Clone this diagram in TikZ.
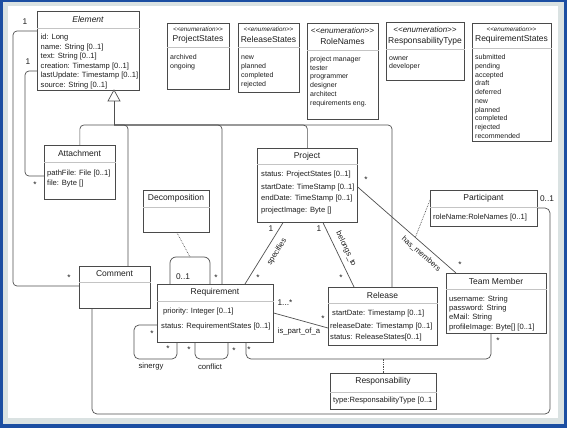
\documentclass[tikz,border=0pt]{standalone}
\usepackage{fontspec}
\setmainfont{Liberation Sans}
\usetikzlibrary{calc}
\definecolor{frameblue}{HTML}{1C4EA2}
\definecolor{frameband}{HTML}{DAE2E2}
\definecolor{boxc}{HTML}{4A4A4A}
\definecolor{linec}{HTML}{505050}
\definecolor{sepc}{HTML}{C4C4C4}
\definecolor{txt}{HTML}{1E1E1E}
\newcommand\ftitle{\fontsize{8.5}{10}\selectfont}
\newcommand\fattr{\fontsize{7.6}{9}\selectfont}
\newcommand\fenum{\fontsize{7}{8}\selectfont}
\newcommand\fstereo{\fontsize{6.3}{7}\selectfont\itshape}
\newcommand\fstereobig{\fontsize{8}{9}\selectfont\itshape}
\newcommand\fmult{\fontsize{8.3}{9}\selectfont}
\newcommand\frole{\fontsize{7.7}{9}\selectfont}
\newcommand\enumst{<{}<enumeration>{}>}
\begin{document}
\begin{tikzpicture}[x=1pt,y=-1pt,
  box/.style={draw=boxc, fill=white, line width=0.7pt, inner sep=0pt, anchor=north west},
  sepline/.style={draw=sepc, line width=0.6pt},
  ttl/.style={font=\ftitle, text=txt, inner sep=0pt},
  att/.style={font=\fattr, text=txt, inner sep=0pt, anchor=base west},
  enumitem/.style={font=\fenum, text=txt, inner sep=0pt, anchor=base west},
  stereo/.style={font=\fstereo, text=txt, inner sep=0pt},
  stereobig/.style={font=\fstereobig, text=txt, inner sep=0pt},
  conn/.style={draw=linec, line width=0.7pt, rounded corners=4pt},
  dotconn/.style={draw=linec, line width=0.7pt, densely dotted},
  mult/.style={font=\fmult, text=txt, inner sep=0pt},
  rolelbl/.style={font=\frole, text=txt, inner sep=0pt},
]
% frame
\fill[frameblue] (0,0) rectangle (567,428);
\fill[frameband] (3,2) rectangle (564,424);
\fill[white] (8,6) rectangle (558,418);
\useasboundingbox (0,0) rectangle (567,428);

\coordinate (lb1) at (13,286);
\coordinate (lb2) at (25,176);
\coordinate (gtip) at (114,90);
\coordinate (gbase) at (114,101);
\coordinate (gj) at (114,125);

% ---------- boxes ----------
\node[box, minimum width=102pt, minimum height=79pt] (element) at (37,11) {};
\draw[sepline] ($(element.north west)+(0,17)$) -- ($(element.north east)+(0,17)$);
\node[ttl, font=\ftitle\itshape] (element-t) at (88,19.5) {Element};
\foreach \t [count=\i] in {{id: Long},{name: String [0..1]},{text: String [0..1]},{creation: Timestamp [0..1]},{lastUpdate: Timestamp [0..1]},{source: String [0..1]}}
  \node[att] (element-a\i) at (40.5,{40+9.4*(\i-1)}) {\t};

\node[box, minimum width=71pt, minimum height=54pt] (attachment) at (44,145) {};
\draw[sepline] ($(attachment.north west)+(0,17)$) -- ($(attachment.north east)+(0,17)$);
\node[ttl] (attachment-t) at (79.5,153.5) {Attachment};
\node[att] (attachment-a1) at (47,175) {pathFile: File [0..1]};
\node[att] (attachment-a2) at (47,185) {file: Byte []};

\node[box, minimum width=71pt, minimum height=42pt] (comment) at (79,266) {};
\draw[sepline] ($(comment.north west)+(0,16)$) -- ($(comment.north east)+(0,16)$);
\node[ttl] (comment-t) at (114.5,274) {Comment};

\node[box, minimum width=66pt, minimum height=42pt] (decomposition) at (143,190) {};
\draw[sepline] ($(decomposition.north west)+(0,17)$) -- ($(decomposition.north east)+(0,17)$);
\node[ttl] (decomposition-t) at (176,198.5) {Decomposition};

\node[box, minimum width=116pt, minimum height=58pt] (requirement) at (157,284) {};
\draw[sepline] ($(requirement.north west)+(0,17)$) -- ($(requirement.north east)+(0,17)$);
\node[ttl] (requirement-t) at (215,292.5) {Requirement};
\node[att] (requirement-a1) at (163,313) {priority: Integer [0..1]};
\node[att] (requirement-a2) at (161,328) {status: RequirementStates [0..1]};

\node[box, minimum width=100pt, minimum height=74pt] (project) at (257,148) {};
\draw[sepline] ($(project.north west)+(0,16)$) -- ($(project.north east)+(0,16)$);
\node[ttl] (project-t) at (307,156) {Project};
\node[att] (project-a1) at (261,176) {status: ProjectStates [0..1]};
\node[att] (project-a2) at (261,189) {startDate: TimeStamp [0..1]};
\node[att] (project-a3) at (261,200) {endDate: TimeStamp [0..1]};
\node[att] (project-a4) at (261,212) {projectImage: Byte []};

\node[box, minimum width=109pt, minimum height=58pt] (release) at (328,287) {};
\draw[sepline] ($(release.north west)+(0,16)$) -- ($(release.north east)+(0,16)$);
\node[ttl] (release-t) at (382.5,295.5) {Release};
\node[att] (release-a1) at (332,315) {startDate: Timestamp [0..1]};
\node[att] (release-a2) at (330,328) {releaseDate: Timestamp [0..1]};
\node[att] (release-a3) at (330,339) {status: ReleaseStates[0..1]};

\node[box, minimum width=107pt, minimum height=36pt] (participant) at (430,190) {};
\draw[sepline] ($(participant.north west)+(0,17)$) -- ($(participant.north east)+(0,17)$);
\node[ttl] (participant-t) at (483.5,198.5) {Participant};
\node[att] (participant-a1) at (433,219) {roleName:RoleNames [0..1]};

\node[box, minimum width=100pt, minimum height=60pt] (teammember) at (446,273) {};
\draw[sepline] ($(teammember.north west)+(0,16)$) -- ($(teammember.north east)+(0,16)$);
\node[ttl] (teammember-t) at (496,281) {Team Member};
\foreach \t [count=\i] in {{username: String},{password: String},{eMail: String},{profileImage: Byte[] [0..1]}}
  \node[att] (teammember-a\i) at (449,{301+9.4*(\i-1)}) {\t};

\node[box, minimum width=106pt, minimum height=36pt] (responsability) at (330,373) {};
\draw[sepline] ($(responsability.north west)+(0,19)$) -- ($(responsability.north east)+(0,19)$);
\node[ttl] (responsability-t) at (383,381.5) {Responsability};
\node[att] (responsability-a1) at (333,402) {type:ResponsabilityType [0..1};

% enumerations
\node[box, minimum width=62pt, minimum height=66pt] (projectstates) at (167,23) {};
\draw[sepline] ($(projectstates.north west)+(0,24)$) -- ($(projectstates.north east)+(0,24)$);
\node[stereo] (projectstates-s) at (198,29) {\enumst};
\node[ttl] (projectstates-t) at (198,39) {ProjectStates};
\foreach \t [count=\i] in {archived,ongoing}
  \node[enumitem] (projectstates-a\i) at (170,{59.5+9*(\i-1)}) {\t};

\node[box, minimum width=61pt, minimum height=69pt] (releasestates) at (238,23) {};
\draw[sepline] ($(releasestates.north west)+(0,24)$) -- ($(releasestates.north east)+(0,24)$);
\node[stereo] (releasestates-s) at (268.5,29) {\enumst};
\node[ttl] (releasestates-t) at (268.5,39) {ReleaseStates};
\foreach \t [count=\i] in {new,planned,completed,rejected}
  \node[enumitem] (releasestates-a\i) at (241,{59.5+9*(\i-1)}) {\t};

\node[box, minimum width=71pt, minimum height=96pt] (rolenames) at (307,23) {};
\draw[sepline] ($(rolenames.north west)+(0,27)$) -- ($(rolenames.north east)+(0,27)$);
\node[stereobig] (rolenames-s) at (342.5,31) {\enumst};
\node[ttl] (rolenames-t) at (342.5,41.5) {RoleNames};
\foreach \t [count=\i] in {project manager,tester,programmer,designer,architect,requirements eng.}
  \node[enumitem] (rolenames-a\i) at (310,{61.5+8.7*(\i-1)}) {\t};

\node[box, minimum width=78pt, minimum height=58pt] (responsabilitytype) at (386,22) {};
\draw[sepline] ($(responsabilitytype.north west)+(0,27)$) -- ($(responsabilitytype.north east)+(0,27)$);
\node[stereobig] (responsabilitytype-s) at (425,30) {\enumst};
\node[ttl] (responsabilitytype-t) at (425,41) {ResponsabilityType};
\foreach \t [count=\i] in {owner,developer}
  \node[enumitem] (responsabilitytype-a\i) at (389,{60.5+8.5*(\i-1)}) {\t};

\node[box, minimum width=79pt, minimum height=118pt] (requirementstates) at (472,23) {};
\draw[sepline] ($(requirementstates.north west)+(0,25)$) -- ($(requirementstates.north east)+(0,25)$);
\node[stereo] (requirementstates-s) at (511.5,29) {\enumst};
\node[ttl] (requirementstates-t) at (511.5,39) {RequirementStates};
\foreach \t [count=\i] in {submitted,pending,accepted,draft,deferred,new,planned,completed,rejected,recommended}
  \node[enumitem] (requirementstates-a\i) at (475,{59.5+8.78*(\i-1)}) {\t};

% ---------- connectors ----------
\draw[conn] ($(element.north west)+(0,20)$) -| (lb1) -- (comment.west |- lb1);
\draw[conn] ($(element.north west)+(0,60)$) -| (lb2) -- (attachment.west |- lb2);
\node[mult] (m-e1) at (25,22) {1};
\node[mult] (m-e2) at (28,62) {1};
\node[mult] (m-c1) at (69,278) {*};
\node[mult] (m-a1) at (35,185) {*};

% generalization tree
\draw[conn, fill=white, rounded corners=0pt] (gtip) -- ++(-6,11) -- ++(12,0) -- cycle;
\draw[conn] (gbase) -- (gj);
\draw[conn] (attachment.north) |- (gj);
\draw[conn] ($(comment.north west)+(49,0)$) |- (gj);
\draw[conn] ($(requirement.north west)+(65,0)$) |- (gj);
\draw[conn] (project.north) |- (gj);
\draw[conn] ($(release.north west)+(64,0)$) |- (gj);

% Decomposition self loop on Requirement
\coordinate (dtop) at (190,257);
\draw[conn, rounded corners=6pt] ($(requirement.north west)+(13,0)$) |- (dtop) -| ($(requirement.north west)+(53,0)$);
\draw[dotconn] ($(decomposition.south west)+(34,0)$) -- (dtop);
\node[mult] (m-d1) at (183,277) {0..1};
\node[mult] (m-d2) at (216,278) {*};

% specifies
\draw[conn] ($(project.south west)+(26,0)$) -- ($(requirement.north west)+(88,0)$);
\node[rolelbl, rotate=58.5] (l-spec) at (277,252) {specifies};
\node[mult] (m-s1) at (271,229) {1};
\node[mult] (m-s2) at (258,278) {*};

% belongs_to
\draw[conn] ($(project.south west)+(66,0)$) -- ($(release.north west)+(26,0)$);
\node[rolelbl, rotate=-64.5] (l-bel) at (346,249) {belongs\_to};
\node[mult] (m-b1) at (319,229) {1};
\node[mult] (m-b2) at (341,278) {*};

% has_members
\coordinate (hm1) at ($(project.north east)+(0,39)$);
\coordinate (hm2) at ($(teammember.north west)+(10,0)$);
\draw[conn] (hm1) -- (hm2);
\node[rolelbl, rotate=-41] (l-has) at (421,254) {has\_members};
\node[mult] (m-h1) at (366,180) {*};
\node[mult] (m-h2) at (460,265) {*};
\coordinate (hmj) at ($(hm1)!0.586!(hm2)$);
\draw[dotconn] ($(participant.north west)+(0,10)$) -- (hmj);

% Comment -- Participant
\coordinate (cpr) at (550,414);
\draw[conn, rounded corners=5pt] ($(comment.south west)+(13,0)$) |- (cpr) |- ($(participant.north east)+(0,18)$);
\node[mult] (m-p1) at (547,199) {0..1};

% is_part_of_a
\draw[conn] ($(requirement.north east)+(0,29)$) -- ($(release.north west)+(0,41)$);
\node[mult] (m-i1) at (285,303) {1...*};
\node[mult] (m-i2) at (323,319) {*};
\node[rolelbl] (l-isp) at (299,332) {is\_part\_of\_a};

% Requirement -- Team Member
\coordinate (rtm) at (491,359);
\draw[conn, rounded corners=5pt] ($(requirement.south west)+(89,0)$) |- (rtm) -- ($(teammember.south west)+(45,0)$);
\node[mult] (m-r1) at (249,350) {*};
\node[mult] (m-r2) at (498,341) {*};
\draw[dotconn] (responsability.north) -- (responsability.north |- rtm);

% sinergy
\coordinate (sinb) at (134,359);
\draw[conn, rounded corners=5pt] ($(requirement.north west)+(0,41)$) -| (sinb) -| ($(requirement.south west)+(20,0)$);
\node[mult] (m-y1) at (152,334) {*};
\node[mult] (m-y2) at (168,349) {*};
\node[rolelbl] (l-sin) at (151,367) {sinergy};

% conflict
\coordinate (conb) at (228,359);
\draw[conn, rounded corners=5pt] ($(requirement.south west)+(38,0)$) |- (conb) -- ($(requirement.south west)+(71,0)$);
\node[mult] (m-f1) at (189,350) {*};
\node[mult] (m-f2) at (234,351) {*};
\node[rolelbl] (l-con) at (210,367) {conflict};
\end{tikzpicture}
\end{document}
